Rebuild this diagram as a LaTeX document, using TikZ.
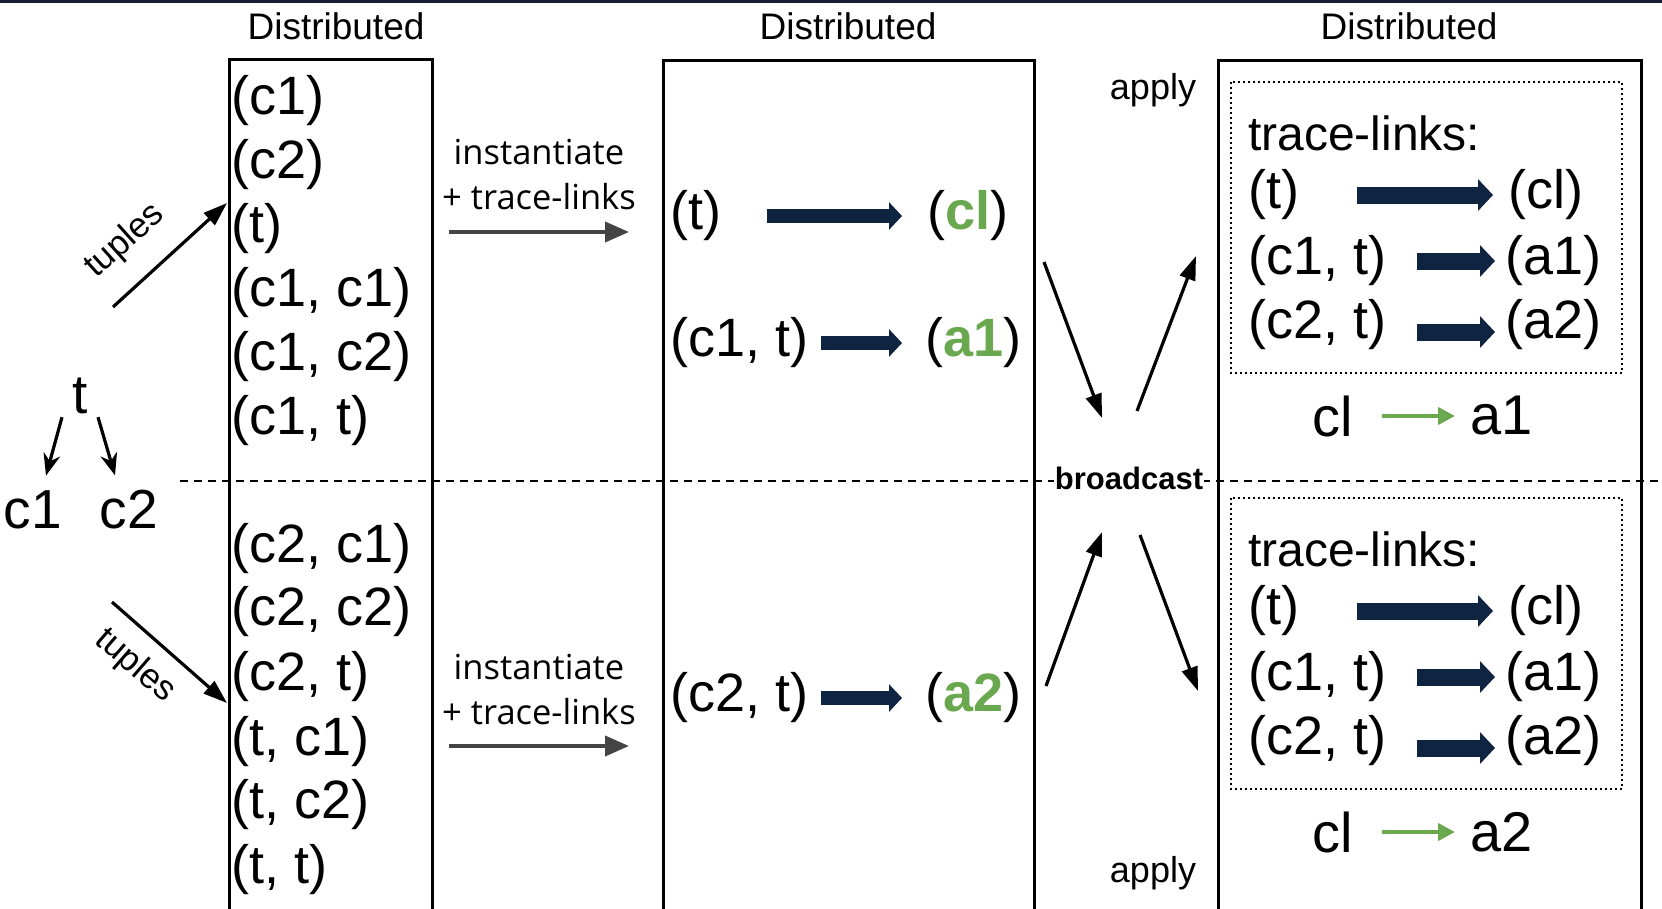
\documentclass[tikz,border=0pt]{standalone}
\usepackage{fontspec}
\setmainfont{Liberation Sans}
\newfontfamily\labelfont{Open Sans}
\usepackage{tikz}
\usetikzlibrary{arrows.meta,positioning}
\definecolor{navy}{HTML}{0F2441}
\definecolor{topbar}{HTML}{1B1C36}
\definecolor{tgreen}{HTML}{6AA84F}
\definecolor{arrowgray}{HTML}{444444}
\tikzset{
  item/.style     ={anchor=west,inner sep=0pt,yshift=-3pt,font=\fontsize{54}{60}\selectfont},
  big/.style      ={inner sep=0pt,font=\fontsize{55}{60}\selectfont},
  hdr/.style      ={inner sep=0pt,font=\fontsize{37}{44}\selectfont},
  note/.style     ={inner sep=0pt,font=\fontsize{36}{42}\selectfont},
  tup/.style      ={inner sep=0pt,font=\fontsize{35}{40}\selectfont},
  inst/.style     ={inner sep=0pt,align=center,font=\labelfont\fontsize{34.5}{45}\selectfont},
  bcast/.style    ={fill=white,inner xsep=1pt,inner ysep=3pt,font=\bfseries\fontsize{31}{36}\selectfont},
  part/.style     ={line width=3pt},
  dots/.style     ={line width=1.6pt,dash pattern=on 1.6pt off 3.4pt},
  splitline/.style={line width=1.8pt,dash pattern=on 8pt off 6pt},
  navyedge/.style ={navy,line width=14pt,-{Triangle[length=13pt,width=27pt]}},
  bignavy/.style  ={navy,line width=17pt,-{Triangle[length=15pt,width=31pt]}},
  grayedge/.style ={arrowgray,line width=4pt,-{Triangle[length=24pt,width=20pt]}},
  flowedge/.style ={line width=3.2pt,-{Triangle[length=24pt,width=16pt]}},
  treeedge/.style ={line width=3.2pt,-{Stealth[length=22pt,width=17pt]}},
  greenedge/.style={tgreen,line width=4pt,-{Triangle[length=17pt,width=17pt]}},
}
\begin{document}
\begin{tikzpicture}[x=1pt,y=-1pt]
  \useasboundingbox (0,0) rectangle (1662,908);
  \fill[topbar] (0,0) rectangle (1662,3);
  % three columns, open at the bottom
  \draw[part] (229,915) -- (229,59) -- (432,59) -- (432,915);
  \draw[part] (663,915) -- (663,60) -- (1034,60) -- (1034,915);
  \draw[part] (1218,915) -- (1218,60) -- (1641,60) -- (1641,915);
  \draw[splitline] (180,481) -- (1662,481);
  \node[hdr] (d1) at (336,26) {Distributed};
  \node[hdr] (d2) at (848,26) {Distributed};
  \node[hdr] (d3) at (1409,26) {Distributed};

  % t and its children
  \node[big] (t) at (80,396) {t};
  \node[big] (c1) at (33,510) {c1};
  \node[big] (c2) at (129,510) {c2};
  \draw[treeedge] ([xshift=-18pt,yshift=-3pt]t.south) -- ([xshift=13pt,yshift=15pt]c1.north);
  \draw[treeedge] ([xshift=18pt,yshift=-3pt]t.south) -- ([xshift=-14pt,yshift=15pt]c2.north);

  % tuples per partition
  \foreach \y/\txt [count=\i] in {98/{(c1)},162/{(c2)},226/{(t)},290/{(c1, c1)},354/{(c1, c2)},418/{(c1, t)}}
    \node[item] (u\i) at (231,\y) {\txt};
  \foreach \y/\txt [count=\i] in {546/{(c2, c1)},609/{(c2, c2)},674/{(c2, t)},739/{(t, c1)},802/{(t, c2)},867/{(t, t)}}
    \node[item] (l\i) at (231,\y) {\txt};
  \coordinate (tsrc1) at (113,307);
  \coordinate (tdst1) at (227,203);
  \coordinate (tsrc2) at (112,602);
  \coordinate (tdst2) at (227,703);
  \draw[flowedge] (tsrc1) -- (tdst1);
  \draw[flowedge] (tsrc2) -- (tdst2);
  \node[tup,rotate=42] (tup1) at (125,241) {tuples};
  \node[tup,rotate=-41] (tup2) at (135,666) {tuples};

  % instantiate step
  \foreach \y/\s in {175/u,689/l}{
    \node[inst] (inst\s) at (539,\y) {instantiate\\+ trace-links};
    \coordinate (gs\s) at (449,\y+57);
    \coordinate (ge\s) at (629,\y+57);
    \draw[grayedge] (gs\s) -- (ge\s);
  }
  \node[item] (pt) at (670,213) {(t)};
  \node[item] (pcl) at (927,213) {(\textcolor{tgreen}{\bfseries cl})};
  \draw[navyedge,shorten <=46pt,shorten >=25pt] (pt) -- (pcl);
  \node[item] (pc1t) at (670,340) {(c1, t)};
  \node[item] (pa1) at (925,340) {(\textcolor{tgreen}{\bfseries a1})};
  \draw[navyedge,shorten <=13pt,shorten >=23pt] (pc1t) -- (pa1);
  \node[item] (pc2t) at (670,695) {(c2, t)};
  \node[item] (pa2) at (925,695) {(\textcolor{tgreen}{\bfseries a2})};
  \draw[navyedge,shorten <=13pt,shorten >=23pt] (pc2t) -- (pa2);

  % broadcast and apply
  \node[bcast] (bc) at (1129,478) {broadcast};
  \coordinate (b1) at (1044,262);
  \coordinate (b2) at (1102,418);
  \coordinate (b3) at (1137,411);
  \coordinate (b4) at (1196,256);
  \coordinate (b5) at (1046,686);
  \coordinate (b6) at (1102,532);
  \coordinate (b7) at (1140,535);
  \coordinate (b8) at (1198,691);
  \draw[flowedge] (b1) -- (b2);
  \draw[flowedge] (b3) -- (b4);
  \draw[flowedge] (b5) -- (b6);
  \draw[flowedge] (b7) -- (b8);
  \node[note] (ap1) at (1153,90) {apply};
  \node[note] (ap2) at (1153,873) {apply};

  % trace-links in each partition
  \foreach \dy/\s/\res in {0/u/a1,416/l/a2}{
    \draw[dots] (1231,82+\dy) rectangle (1622,373+\dy);
    \node[item,font=\fontsize{48}{56}\selectfont] (tl\s) at (1248,130+\dy) {trace-links:};
    \node[item] (rt\s) at (1248,192+\dy) {(t)};
    \node[item] (rcl\s) at (1508,192+\dy) {(cl)};
    \node[item] (rc1\s) at (1248,258+\dy) {(c1, t)};
    \node[item] (ra1\s) at (1505,258+\dy) {(a1)};
    \node[item] (rc2\s) at (1248,322+\dy) {(c2, t)};
    \node[item] (ra2\s) at (1505,322+\dy) {(a2)};
    \draw[bignavy,shorten <=58pt,shorten >=15pt] (rt\s) -- (rcl\s);
    \draw[bignavy,shorten <=31pt,shorten >=10pt] (rc1\s) -- (ra1\s);
    \draw[bignavy,shorten <=31pt,shorten >=10pt] ([yshift=-7pt]rc2\s.east) -- ([yshift=-7pt]ra2\s.west);
    \node[item,font=\fontsize{56}{60}\selectfont] (cl\s) at (1312,413+\dy) {cl};
    \node[item,font=\fontsize{56}{60}\selectfont] (res\s) at (1470,413+\dy) {\res};
    \draw[greenedge,shorten <=29pt,shorten >=15pt] (cl\s) -- (res\s);
  }
\end{tikzpicture}
\end{document}
